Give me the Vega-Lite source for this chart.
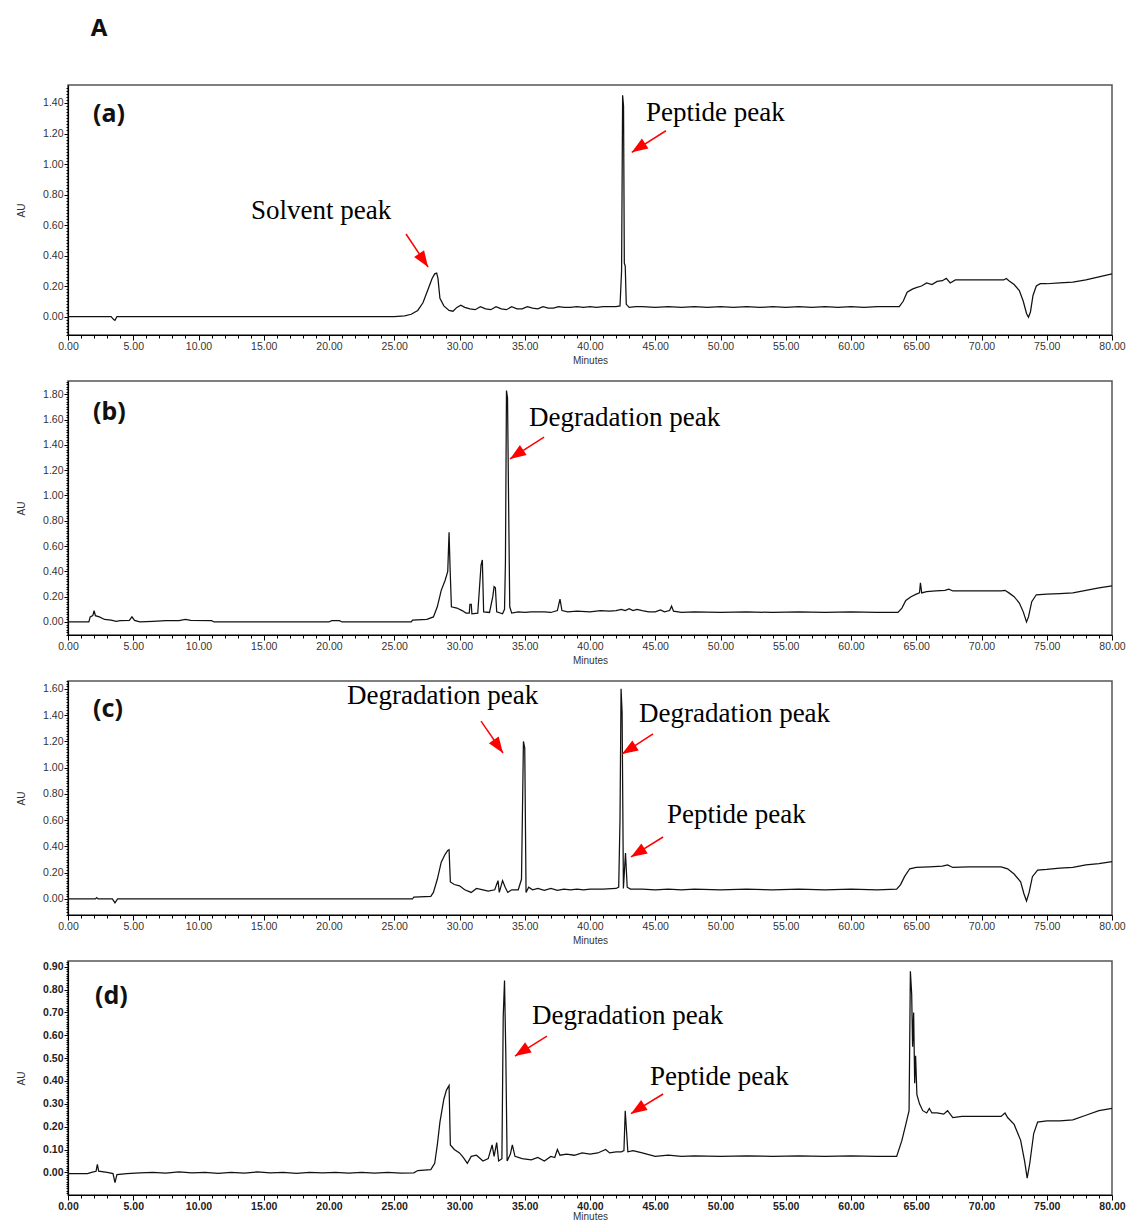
{
  "$schema": "https://vega.github.io/schema/vega-lite/v6.json",
  "padding": {"top": 16, "left": 15, "right": 5, "bottom": 2},
  "background": "white",
  "title": {"text": "A", "anchor": "start", "dx": 75, "offset": 41, "fontSize": 24, "fontWeight": "bold", "font": "Noto Sans", "color": "#111"},
  "bounds": "flush",
  "spacing": 46,
  "config": {
    "view": {"stroke": "#555", "strokeWidth": 1.5},
    "axis": {"domainColor": "#000", "domainWidth": 1.2, "tickColor": "#000", "tickWidth": 1, "labelFont": "Liberation Sans", "labelFontSize": 10.5, "labelColor": "#333", "titleFont": "Liberation Sans", "titleFontSize": 10, "titleFontWeight": "normal", "titleColor": "#333", "grid": false, "labelOverlap": false, "labelBound": false, "labelFlush": false},
    "axisX": {"titlePadding": 4, "labelPadding": 1},
    "axisY": {"titlePadding": 16, "labelPadding": 1}
  },
  "datasets": {
    "a": [
      {"t":0,"v":0},{"t":3.3,"v":0},{"t":3.5,"v":-0.02},{"t":3.6,"v":-0.025},{"t":3.75,"v":0},{"t":10,"v":0},{"t":20,"v":0},{"t":25,"v":0},{"t":25.8,"v":0.005},{"t":26.3,"v":0.015},{"t":26.8,"v":0.04},{"t":27.2,"v":0.09},{"t":27.6,"v":0.18},{"t":27.9,"v":0.25},{"t":28.1,"v":0.28},{"t":28.25,"v":0.285},{"t":28.35,"v":0.25},{"t":28.5,"v":0.12},{"t":28.8,"v":0.07},{"t":29.2,"v":0.04},{"t":29.5,"v":0.035},{"t":29.8,"v":0.06},{"t":30.1,"v":0.075},{"t":30.4,"v":0.06},{"t":30.8,"v":0.05},{"t":31.2,"v":0.045},{"t":31.6,"v":0.065},{"t":32.0,"v":0.05},{"t":32.4,"v":0.045},{"t":32.8,"v":0.065},{"t":33.2,"v":0.05},{"t":33.6,"v":0.045},{"t":34.0,"v":0.065},{"t":34.4,"v":0.05},{"t":34.8,"v":0.05},{"t":35.2,"v":0.065},{"t":35.6,"v":0.055},{"t":36.0,"v":0.05},{"t":36.4,"v":0.065},{"t":36.8,"v":0.055},{"t":37.2,"v":0.055},{"t":37.6,"v":0.065},{"t":38.0,"v":0.06},{"t":38.5,"v":0.06},{"t":39,"v":0.065},{"t":39.5,"v":0.06},{"t":40,"v":0.065},{"t":40.5,"v":0.06},{"t":41,"v":0.065},{"t":41.5,"v":0.065},{"t":42.0,"v":0.065},{"t":42.3,"v":0.07},{"t":42.42,"v":0.3},{"t":42.5,"v":1.45},{"t":42.57,"v":1.38},{"t":42.63,"v":0.35},{"t":42.7,"v":0.33},{"t":42.78,"v":0.08},{"t":43.0,"v":0.06},{"t":43.5,"v":0.065},{"t":44,"v":0.065},{"t":45,"v":0.06},{"t":46,"v":0.065},{"t":47,"v":0.06},{"t":48,"v":0.065},{"t":49,"v":0.06},{"t":50,"v":0.065},{"t":51,"v":0.06},{"t":52,"v":0.065},{"t":53,"v":0.06},{"t":54,"v":0.065},{"t":55,"v":0.06},{"t":56,"v":0.065},{"t":57,"v":0.06},{"t":58,"v":0.065},{"t":59,"v":0.06},{"t":60,"v":0.065},{"t":61,"v":0.06},{"t":62,"v":0.065},{"t":63,"v":0.065},{"t":63.7,"v":0.065},{"t":64.0,"v":0.1},{"t":64.3,"v":0.16},{"t":64.7,"v":0.18},{"t":65.0,"v":0.19},{"t":65.4,"v":0.2},{"t":65.8,"v":0.22},{"t":66.2,"v":0.21},{"t":66.6,"v":0.23},{"t":67.0,"v":0.235},{"t":67.3,"v":0.25},{"t":67.6,"v":0.22},{"t":68.0,"v":0.24},{"t":69,"v":0.24},{"t":70,"v":0.24},{"t":71,"v":0.24},{"t":71.7,"v":0.24},{"t":71.9,"v":0.25},{"t":72.1,"v":0.235},{"t":72.5,"v":0.21},{"t":72.9,"v":0.17},{"t":73.2,"v":0.1},{"t":73.45,"v":0.02},{"t":73.6,"v":-0.005},{"t":73.75,"v":0.03},{"t":73.95,"v":0.14},{"t":74.2,"v":0.2},{"t":74.5,"v":0.215},{"t":75,"v":0.215},{"t":76,"v":0.22},{"t":77,"v":0.225},{"t":78,"v":0.24},{"t":79,"v":0.26},{"t":80,"v":0.28}
    ],
    "b": [
      {"t":0,"v":0},{"t":1.6,"v":0},{"t":1.7,"v":0.04},{"t":1.9,"v":0.05},{"t":2.0,"v":0.09},{"t":2.1,"v":0.05},{"t":2.4,"v":0.04},{"t":2.8,"v":0.02},{"t":3.3,"v":0.015},{"t":3.7,"v":0.005},{"t":4.0,"v":0.01},{"t":4.7,"v":0.012},{"t":4.9,"v":0.04},{"t":5.1,"v":0.012},{"t":5.5,"v":0.0},{"t":6.5,"v":0.005},{"t":7.5,"v":0.01},{"t":8.5,"v":0.01},{"t":9.0,"v":0.02},{"t":9.4,"v":0.012},{"t":11.0,"v":0.01},{"t":11.2,"v":0.0},{"t":14,"v":0.0},{"t":20,"v":0.0},{"t":20.2,"v":0.01},{"t":20.8,"v":0.01},{"t":21,"v":0.0},{"t":26.3,"v":0.0},{"t":26.4,"v":0.015},{"t":27.5,"v":0.02},{"t":28.0,"v":0.04},{"t":28.3,"v":0.12},{"t":28.6,"v":0.25},{"t":28.9,"v":0.33},{"t":29.1,"v":0.4},{"t":29.2,"v":0.71},{"t":29.28,"v":0.42},{"t":29.38,"v":0.12},{"t":29.8,"v":0.11},{"t":30.2,"v":0.09},{"t":30.5,"v":0.07},{"t":30.75,"v":0.07},{"t":30.8,"v":0.14},{"t":30.9,"v":0.14},{"t":30.95,"v":0.065},{"t":31.4,"v":0.07},{"t":31.65,"v":0.45},{"t":31.75,"v":0.49},{"t":31.85,"v":0.08},{"t":32.3,"v":0.075},{"t":32.55,"v":0.2},{"t":32.65,"v":0.28},{"t":32.75,"v":0.27},{"t":32.85,"v":0.08},{"t":33.3,"v":0.065},{"t":33.45,"v":0.1},{"t":33.52,"v":0.47},{"t":33.6,"v":1.83},{"t":33.68,"v":1.77},{"t":33.76,"v":0.97},{"t":33.85,"v":0.12},{"t":34.0,"v":0.07},{"t":34.5,"v":0.08},{"t":35,"v":0.075},{"t":35.5,"v":0.08},{"t":36,"v":0.08},{"t":36.5,"v":0.08},{"t":37,"v":0.075},{"t":37.5,"v":0.09},{"t":37.7,"v":0.18},{"t":37.85,"v":0.09},{"t":38.3,"v":0.08},{"t":39,"v":0.085},{"t":40,"v":0.08},{"t":40.8,"v":0.09},{"t":41.5,"v":0.085},{"t":42.0,"v":0.09},{"t":42.4,"v":0.1},{"t":42.7,"v":0.09},{"t":43.0,"v":0.105},{"t":43.3,"v":0.09},{"t":43.6,"v":0.1},{"t":44.0,"v":0.09},{"t":44.5,"v":0.08},{"t":45.0,"v":0.08},{"t":45.4,"v":0.095},{"t":45.7,"v":0.08},{"t":46.1,"v":0.09},{"t":46.25,"v":0.125},{"t":46.4,"v":0.085},{"t":47,"v":0.075},{"t":48,"v":0.08},{"t":50,"v":0.075},{"t":52,"v":0.08},{"t":54,"v":0.075},{"t":56,"v":0.08},{"t":58,"v":0.075},{"t":60,"v":0.08},{"t":62,"v":0.075},{"t":63.6,"v":0.075},{"t":63.9,"v":0.11},{"t":64.2,"v":0.17},{"t":64.6,"v":0.2},{"t":65.0,"v":0.22},{"t":65.25,"v":0.23},{"t":65.32,"v":0.31},{"t":65.42,"v":0.23},{"t":65.8,"v":0.24},{"t":66.5,"v":0.245},{"t":67.2,"v":0.25},{"t":67.5,"v":0.26},{"t":67.8,"v":0.245},{"t":68.5,"v":0.245},{"t":70,"v":0.245},{"t":71.5,"v":0.245},{"t":71.8,"v":0.25},{"t":72.1,"v":0.23},{"t":72.5,"v":0.2},{"t":72.9,"v":0.15},{"t":73.2,"v":0.08},{"t":73.45,"v":0.0},{"t":73.6,"v":0.04},{"t":73.85,"v":0.16},{"t":74.2,"v":0.215},{"t":75,"v":0.22},{"t":76,"v":0.225},{"t":77,"v":0.23},{"t":78,"v":0.25},{"t":79,"v":0.27},{"t":80,"v":0.285}
    ],
    "c": [
      {"t":0,"v":0},{"t":2.1,"v":0},{"t":2.2,"v":0.01},{"t":2.3,"v":0},{"t":3.4,"v":0},{"t":3.6,"v":-0.03},{"t":3.8,"v":0},{"t":10,"v":0},{"t":20,"v":0},{"t":26.4,"v":0.0},{"t":26.5,"v":0.015},{"t":27.8,"v":0.02},{"t":28.0,"v":0.05},{"t":28.3,"v":0.15},{"t":28.6,"v":0.28},{"t":28.9,"v":0.34},{"t":29.1,"v":0.37},{"t":29.2,"v":0.375},{"t":29.3,"v":0.13},{"t":29.6,"v":0.11},{"t":30.0,"v":0.1},{"t":30.4,"v":0.07},{"t":30.9,"v":0.05},{"t":31.3,"v":0.08},{"t":31.8,"v":0.07},{"t":32.2,"v":0.06},{"t":32.7,"v":0.07},{"t":32.95,"v":0.14},{"t":33.05,"v":0.05},{"t":33.3,"v":0.14},{"t":33.5,"v":0.09},{"t":33.7,"v":0.05},{"t":34.0,"v":0.07},{"t":34.5,"v":0.07},{"t":34.75,"v":0.15},{"t":34.9,"v":1.2},{"t":35.0,"v":1.15},{"t":35.1,"v":0.05},{"t":35.3,"v":0.09},{"t":35.6,"v":0.07},{"t":36,"v":0.08},{"t":36.5,"v":0.065},{"t":37,"v":0.08},{"t":37.5,"v":0.065},{"t":38,"v":0.075},{"t":38.5,"v":0.07},{"t":39,"v":0.075},{"t":39.5,"v":0.07},{"t":40,"v":0.075},{"t":41,"v":0.075},{"t":42,"v":0.08},{"t":42.2,"v":0.09},{"t":42.3,"v":0.61},{"t":42.38,"v":1.6},{"t":42.46,"v":1.42},{"t":42.56,"v":0.08},{"t":42.72,"v":0.35},{"t":42.85,"v":0.09},{"t":43.1,"v":0.075},{"t":44,"v":0.075},{"t":45,"v":0.07},{"t":46,"v":0.075},{"t":47,"v":0.07},{"t":48,"v":0.075},{"t":50,"v":0.07},{"t":52,"v":0.075},{"t":54,"v":0.07},{"t":56,"v":0.075},{"t":58,"v":0.07},{"t":60,"v":0.075},{"t":62,"v":0.07},{"t":63.5,"v":0.075},{"t":63.8,"v":0.11},{"t":64.1,"v":0.17},{"t":64.5,"v":0.23},{"t":65,"v":0.24},{"t":66,"v":0.245},{"t":67,"v":0.25},{"t":67.4,"v":0.26},{"t":67.8,"v":0.24},{"t":69,"v":0.245},{"t":71.5,"v":0.245},{"t":72,"v":0.23},{"t":72.5,"v":0.19},{"t":73,"v":0.13},{"t":73.25,"v":0.04},{"t":73.45,"v":-0.015},{"t":73.65,"v":0.05},{"t":73.9,"v":0.17},{"t":74.3,"v":0.22},{"t":75,"v":0.225},{"t":76,"v":0.235},{"t":77,"v":0.24},{"t":78,"v":0.26},{"t":79,"v":0.27},{"t":80,"v":0.285}
    ],
    "d": [
      {"t":0,"v":-0.005},{"t":1.5,"v":-0.005},{"t":1.8,"v":0.0},{"t":2.15,"v":0.005},{"t":2.25,"v":0.035},{"t":2.35,"v":0.005},{"t":3.0,"v":0.0},{"t":3.45,"v":-0.005},{"t":3.6,"v":-0.045},{"t":3.75,"v":-0.01},{"t":4.5,"v":-0.005},{"t":5.5,"v":-0.002},{"t":6.5,"v":0.0},{"t":7.5,"v":-0.003},{"t":8.5,"v":0.002},{"t":9.5,"v":-0.002},{"t":10.5,"v":0.0},{"t":11.5,"v":-0.004},{"t":12.5,"v":0.0},{"t":13.5,"v":-0.003},{"t":14.5,"v":0.002},{"t":15.5,"v":-0.002},{"t":16.5,"v":0.0},{"t":17.5,"v":-0.004},{"t":18.5,"v":0.0},{"t":19.5,"v":-0.002},{"t":20.5,"v":0.0},{"t":21.5,"v":-0.003},{"t":22.5,"v":0.0},{"t":23.5,"v":-0.003},{"t":24.5,"v":0.0},{"t":25.5,"v":-0.003},{"t":26.5,"v":-0.002},{"t":26.8,"v":0.008},{"t":27.8,"v":0.012},{"t":28.1,"v":0.04},{"t":28.3,"v":0.12},{"t":28.5,"v":0.22},{"t":28.8,"v":0.32},{"t":29.0,"v":0.36},{"t":29.2,"v":0.38},{"t":29.3,"v":0.12},{"t":29.6,"v":0.1},{"t":30.0,"v":0.085},{"t":30.3,"v":0.065},{"t":30.6,"v":0.04},{"t":30.9,"v":0.07},{"t":31.3,"v":0.075},{"t":31.8,"v":0.05},{"t":32.2,"v":0.06},{"t":32.5,"v":0.12},{"t":32.65,"v":0.07},{"t":32.85,"v":0.13},{"t":33.0,"v":0.05},{"t":33.25,"v":0.06},{"t":33.35,"v":0.68},{"t":33.45,"v":0.84},{"t":33.55,"v":0.51},{"t":33.65,"v":0.05},{"t":33.9,"v":0.08},{"t":34.05,"v":0.12},{"t":34.25,"v":0.07},{"t":34.8,"v":0.06},{"t":35.5,"v":0.055},{"t":36.0,"v":0.065},{"t":36.5,"v":0.05},{"t":37.0,"v":0.07},{"t":37.3,"v":0.065},{"t":37.5,"v":0.1},{"t":37.7,"v":0.075},{"t":38.2,"v":0.08},{"t":38.8,"v":0.075},{"t":39.4,"v":0.085},{"t":40,"v":0.08},{"t":40.6,"v":0.085},{"t":41.2,"v":0.1},{"t":41.5,"v":0.085},{"t":42,"v":0.09},{"t":42.4,"v":0.09},{"t":42.6,"v":0.095},{"t":42.7,"v":0.27},{"t":42.8,"v":0.18},{"t":42.9,"v":0.09},{"t":43.3,"v":0.095},{"t":44,"v":0.085},{"t":45,"v":0.07},{"t":46,"v":0.075},{"t":47,"v":0.07},{"t":48,"v":0.072},{"t":50,"v":0.07},{"t":52,"v":0.072},{"t":54,"v":0.07},{"t":56,"v":0.072},{"t":58,"v":0.07},{"t":60,"v":0.072},{"t":62,"v":0.07},{"t":63.5,"v":0.07},{"t":63.9,"v":0.14},{"t":64.2,"v":0.21},{"t":64.45,"v":0.27},{"t":64.55,"v":0.88},{"t":64.65,"v":0.78},{"t":64.72,"v":0.55},{"t":64.8,"v":0.7},{"t":64.88,"v":0.39},{"t":64.95,"v":0.51},{"t":65.05,"v":0.34},{"t":65.25,"v":0.3},{"t":65.5,"v":0.27},{"t":65.8,"v":0.26},{"t":66.0,"v":0.28},{"t":66.2,"v":0.26},{"t":66.6,"v":0.26},{"t":67.1,"v":0.255},{"t":67.4,"v":0.27},{"t":67.8,"v":0.24},{"t":68.5,"v":0.245},{"t":69.5,"v":0.245},{"t":70.5,"v":0.245},{"t":71.5,"v":0.245},{"t":71.8,"v":0.26},{"t":72.0,"v":0.24},{"t":72.5,"v":0.21},{"t":73.0,"v":0.14},{"t":73.3,"v":0.05},{"t":73.5,"v":-0.025},{"t":73.7,"v":0.04},{"t":74.0,"v":0.17},{"t":74.3,"v":0.22},{"t":75,"v":0.225},{"t":76,"v":0.225},{"t":77,"v":0.23},{"t":78,"v":0.25},{"t":79,"v":0.27},{"t":80,"v":0.28}
    ],
    "notes": [
      {"panel":"a","kind":"tag","x":1.92,"y":1.328,"label":"(a)"},
      {"panel":"a","kind":"note","x":14.02,"y":0.692,"label":"Solvent peak"},
      {"panel":"a","kind":"note","x":44.29,"y":1.334,"label":"Peptide peak"},
      {"panel":"b","kind":"tag","x":1.92,"y":1.66,"label":"(b)"},
      {"panel":"b","kind":"note","x":35.33,"y":1.613,"label":"Degradation peak"},
      {"panel":"c","kind":"tag","x":1.92,"y":1.447,"label":"(c)"},
      {"panel":"c","kind":"note","x":21.38,"y":1.546,"label":"Degradation peak"},
      {"panel":"c","kind":"note","x":43.75,"y":1.409,"label":"Degradation peak"},
      {"panel":"c","kind":"note","x":45.9,"y":0.64,"label":"Peptide peak"},
      {"panel":"d","kind":"tag","x":2.07,"y":0.774,"label":"(d)"},
      {"panel":"d","kind":"note","x":35.56,"y":0.683,"label":"Degradation peak"},
      {"panel":"d","kind":"note","x":44.6,"y":0.417,"label":"Peptide peak"}
    ],
    "arrows": [
      {"panel":"a","dir":"dr","x0":25.9,"y0":0.541,"x1":27.59,"y1":0.325},
      {"panel":"a","dir":"dl","x0":45.82,"y0":1.218,"x1":43.2,"y1":1.077},
      {"panel":"b","dir":"dl","x0":36.48,"y0":1.462,"x1":33.87,"y1":1.289},
      {"panel":"c","dir":"dr","x0":31.65,"y0":1.355,"x1":33.33,"y1":1.112},
      {"panel":"c","dir":"dl","x0":44.83,"y0":1.257,"x1":42.45,"y1":1.104},
      {"panel":"c","dir":"dl","x0":45.6,"y0":0.472,"x1":43.14,"y1":0.32},
      {"panel":"d","dir":"dl","x0":36.7,"y0":0.596,"x1":34.25,"y1":0.509},
      {"panel":"d","dir":"dl","x0":45.6,"y0":0.343,"x1":43.14,"y1":0.257}
    ]
  },
  "vconcat": [
    {
      "width": 1044, "height": 250,
      "encoding": {
        "x": {"type": "quantitative", "scale": {"domain": [0, 80], "nice": false}, "axis": {"title": "Minutes", "tickCount": 80, "labelExpr": "datum.value % 5 === 0 ? format(datum.value, '.2f') : ''", "tickSize": {"condition": {"test": "datum.value % 5 === 0", "value": 5}, "value": 3}}},
        "y": {"type": "quantitative", "scale": {"domain": [-0.121, 1.518], "nice": false, "zero": false}, "axis": {"title": "AU", "tickCount": 82, "labelExpr": "abs(datum.value*5 - round(datum.value*5)) < 0.001 ? format(datum.value, '.2f') : ''", "tickSize": {"condition": {"test": "abs(datum.value*5 - round(datum.value*5)) < 0.001", "value": 4}, "value": 2}}}
      },
      "layer": [
        {"data": {"name": "a"}, "mark": {"type": "line", "color": "#111", "strokeWidth": 1.25}, "encoding": {"x": {"field": "t", "type": "quantitative"}, "y": {"field": "v", "type": "quantitative"}}},
        {"data": {"name": "notes"}, "transform": [{"filter": "datum.panel === 'a' && datum.kind === 'note'"}], "mark": {"type": "text", "font": "Liberation Serif", "fontSize": 27, "align": "left", "baseline": "middle", "color": "#000"}, "encoding": {"x": {"field": "x", "type": "quantitative"}, "y": {"field": "y", "type": "quantitative"}, "text": {"field": "label"}}},
        {"data": {"name": "notes"}, "transform": [{"filter": "datum.panel === 'a' && datum.kind === 'tag'"}], "mark": {"type": "text", "font": "Noto Sans", "fontWeight": "bold", "fontSize": 25, "align": "left", "baseline": "middle", "color": "#111"}, "encoding": {"x": {"field": "x", "type": "quantitative"}, "y": {"field": "y", "type": "quantitative"}, "text": {"field": "label"}}},
        {"data": {"name": "arrows"}, "transform": [{"filter": "datum.panel === 'a'"}], "mark": {"type": "rule", "color": "#f00", "strokeWidth": 1.5}, "encoding": {"x": {"field": "x0", "type": "quantitative"}, "y": {"field": "y0", "type": "quantitative"}, "x2": {"field": "x1"}, "y2": {"field": "y1"}}},
        {"data": {"name": "arrows"}, "transform": [{"filter": "datum.panel === 'a' && datum.dir === 'dl'"}], "mark": {"type": "point", "shape": "M0,0L0.75,2L-0.75,2Z", "filled": true, "color": "#f00", "opacity": 1, "size": 256, "angle": 237}, "encoding": {"x": {"field": "x1", "type": "quantitative"}, "y": {"field": "y1", "type": "quantitative"}}},
        {"data": {"name": "arrows"}, "transform": [{"filter": "datum.panel === 'a' && datum.dir === 'dr'"}], "mark": {"type": "point", "shape": "M0,0L0.75,2L-0.75,2Z", "filled": true, "color": "#f00", "opacity": 1, "size": 256, "angle": 146}, "encoding": {"x": {"field": "x1", "type": "quantitative"}, "y": {"field": "y1", "type": "quantitative"}}}
      ]
    },
    {
      "width": 1044, "height": 254,
      "encoding": {
        "x": {"type": "quantitative", "scale": {"domain": [0, 80], "nice": false}, "axis": {"title": "Minutes", "tickCount": 80, "labelExpr": "datum.value % 5 === 0 ? format(datum.value, '.2f') : ''", "tickSize": {"condition": {"test": "datum.value % 5 === 0", "value": 5}, "value": 3}}},
        "y": {"type": "quantitative", "scale": {"domain": [-0.103, 1.905], "nice": false, "zero": false}, "axis": {"title": "AU", "tickCount": 100, "labelExpr": "abs(datum.value*5 - round(datum.value*5)) < 0.001 ? format(datum.value, '.2f') : ''", "tickSize": {"condition": {"test": "abs(datum.value*5 - round(datum.value*5)) < 0.001", "value": 4}, "value": 2}}}
      },
      "layer": [
        {"data": {"name": "b"}, "mark": {"type": "line", "color": "#111", "strokeWidth": 1.25}, "encoding": {"x": {"field": "t", "type": "quantitative"}, "y": {"field": "v", "type": "quantitative"}}},
        {"data": {"name": "notes"}, "transform": [{"filter": "datum.panel === 'b' && datum.kind === 'note'"}], "mark": {"type": "text", "font": "Liberation Serif", "fontSize": 27, "align": "left", "baseline": "middle", "color": "#000"}, "encoding": {"x": {"field": "x", "type": "quantitative"}, "y": {"field": "y", "type": "quantitative"}, "text": {"field": "label"}}},
        {"data": {"name": "notes"}, "transform": [{"filter": "datum.panel === 'b' && datum.kind === 'tag'"}], "mark": {"type": "text", "font": "Noto Sans", "fontWeight": "bold", "fontSize": 25, "align": "left", "baseline": "middle", "color": "#111"}, "encoding": {"x": {"field": "x", "type": "quantitative"}, "y": {"field": "y", "type": "quantitative"}, "text": {"field": "label"}}},
        {"data": {"name": "arrows"}, "transform": [{"filter": "datum.panel === 'b'"}], "mark": {"type": "rule", "color": "#f00", "strokeWidth": 1.5}, "encoding": {"x": {"field": "x0", "type": "quantitative"}, "y": {"field": "y0", "type": "quantitative"}, "x2": {"field": "x1"}, "y2": {"field": "y1"}}},
        {"data": {"name": "arrows"}, "transform": [{"filter": "datum.panel === 'b' && datum.dir === 'dl'"}], "mark": {"type": "point", "shape": "M0,0L0.75,2L-0.75,2Z", "filled": true, "color": "#f00", "opacity": 1, "size": 256, "angle": 236}, "encoding": {"x": {"field": "x1", "type": "quantitative"}, "y": {"field": "y1", "type": "quantitative"}}}
      ]
    },
    {
      "width": 1044, "height": 234,
      "encoding": {
        "x": {"type": "quantitative", "scale": {"domain": [0, 80], "nice": false}, "axis": {"title": "Minutes", "tickCount": 80, "labelExpr": "datum.value % 5 === 0 ? format(datum.value, '.2f') : ''", "tickSize": {"condition": {"test": "datum.value % 5 === 0", "value": 5}, "value": 3}}},
        "y": {"type": "quantitative", "scale": {"domain": [-0.122, 1.66], "nice": false, "zero": false}, "axis": {"title": "AU", "tickCount": 89, "labelExpr": "abs(datum.value*5 - round(datum.value*5)) < 0.001 ? format(datum.value, '.2f') : ''", "tickSize": {"condition": {"test": "abs(datum.value*5 - round(datum.value*5)) < 0.001", "value": 4}, "value": 2}}}
      },
      "layer": [
        {"data": {"name": "c"}, "mark": {"type": "line", "color": "#111", "strokeWidth": 1.25}, "encoding": {"x": {"field": "t", "type": "quantitative"}, "y": {"field": "v", "type": "quantitative"}}},
        {"data": {"name": "notes"}, "transform": [{"filter": "datum.panel === 'c' && datum.kind === 'note'"}], "mark": {"type": "text", "font": "Liberation Serif", "fontSize": 27, "align": "left", "baseline": "middle", "color": "#000"}, "encoding": {"x": {"field": "x", "type": "quantitative"}, "y": {"field": "y", "type": "quantitative"}, "text": {"field": "label"}}},
        {"data": {"name": "notes"}, "transform": [{"filter": "datum.panel === 'c' && datum.kind === 'tag'"}], "mark": {"type": "text", "font": "Noto Sans", "fontWeight": "bold", "fontSize": 25, "align": "left", "baseline": "middle", "color": "#111"}, "encoding": {"x": {"field": "x", "type": "quantitative"}, "y": {"field": "y", "type": "quantitative"}, "text": {"field": "label"}}},
        {"data": {"name": "arrows"}, "transform": [{"filter": "datum.panel === 'c'"}], "mark": {"type": "rule", "color": "#f00", "strokeWidth": 1.5}, "encoding": {"x": {"field": "x0", "type": "quantitative"}, "y": {"field": "y0", "type": "quantitative"}, "x2": {"field": "x1"}, "y2": {"field": "y1"}}},
        {"data": {"name": "arrows"}, "transform": [{"filter": "datum.panel === 'c' && datum.dir === 'dl'"}], "mark": {"type": "point", "shape": "M0,0L0.75,2L-0.75,2Z", "filled": true, "color": "#f00", "opacity": 1, "size": 256, "angle": 238}, "encoding": {"x": {"field": "x1", "type": "quantitative"}, "y": {"field": "y1", "type": "quantitative"}}},
        {"data": {"name": "arrows"}, "transform": [{"filter": "datum.panel === 'c' && datum.dir === 'dr'"}], "mark": {"type": "point", "shape": "M0,0L0.75,2L-0.75,2Z", "filled": true, "color": "#f00", "opacity": 1, "size": 256, "angle": 145}, "encoding": {"x": {"field": "x1", "type": "quantitative"}, "y": {"field": "y1", "type": "quantitative"}}}
      ]
    },
    {
      "width": 1044, "height": 234,
      "encoding": {
        "x": {"type": "quantitative", "scale": {"domain": [0, 80], "nice": false}, "axis": {"title": "Minutes", "titlePadding": 0, "tickCount": 80, "labelFontWeight": "bold", "labelColor": "#222", "labelExpr": "datum.value % 5 === 0 ? format(datum.value, '.2f') : ''", "tickSize": {"condition": {"test": "datum.value % 5 === 0", "value": 5}, "value": 3}}},
        "y": {"type": "quantitative", "scale": {"domain": [-0.099, 0.925], "nice": false, "zero": false}, "axis": {"title": "AU", "tickCount": 100, "labelFontWeight": "bold", "labelColor": "#222", "labelExpr": "abs(datum.value*10 - round(datum.value*10)) < 0.001 ? format(datum.value, '.2f') : ''", "tickSize": {"condition": {"test": "abs(datum.value*10 - round(datum.value*10)) < 0.001", "value": 4}, "value": 2}}}
      },
      "layer": [
        {"data": {"name": "d"}, "mark": {"type": "line", "color": "#111", "strokeWidth": 1.25}, "encoding": {"x": {"field": "t", "type": "quantitative"}, "y": {"field": "v", "type": "quantitative"}}},
        {"data": {"name": "notes"}, "transform": [{"filter": "datum.panel === 'd' && datum.kind === 'note'"}], "mark": {"type": "text", "font": "Liberation Serif", "fontSize": 27, "align": "left", "baseline": "middle", "color": "#000"}, "encoding": {"x": {"field": "x", "type": "quantitative"}, "y": {"field": "y", "type": "quantitative"}, "text": {"field": "label"}}},
        {"data": {"name": "notes"}, "transform": [{"filter": "datum.panel === 'd' && datum.kind === 'tag'"}], "mark": {"type": "text", "font": "Noto Sans", "fontWeight": "bold", "fontSize": 25, "align": "left", "baseline": "middle", "color": "#111"}, "encoding": {"x": {"field": "x", "type": "quantitative"}, "y": {"field": "y", "type": "quantitative"}, "text": {"field": "label"}}},
        {"data": {"name": "arrows"}, "transform": [{"filter": "datum.panel === 'd'"}], "mark": {"type": "rule", "color": "#f00", "strokeWidth": 1.5}, "encoding": {"x": {"field": "x0", "type": "quantitative"}, "y": {"field": "y0", "type": "quantitative"}, "x2": {"field": "x1"}, "y2": {"field": "y1"}}},
        {"data": {"name": "arrows"}, "transform": [{"filter": "datum.panel === 'd' && datum.dir === 'dl'"}], "mark": {"type": "point", "shape": "M0,0L0.75,2L-0.75,2Z", "filled": true, "color": "#f00", "opacity": 1, "size": 256, "angle": 237}, "encoding": {"x": {"field": "x1", "type": "quantitative"}, "y": {"field": "y1", "type": "quantitative"}}}
      ]
    }
  ]
}
